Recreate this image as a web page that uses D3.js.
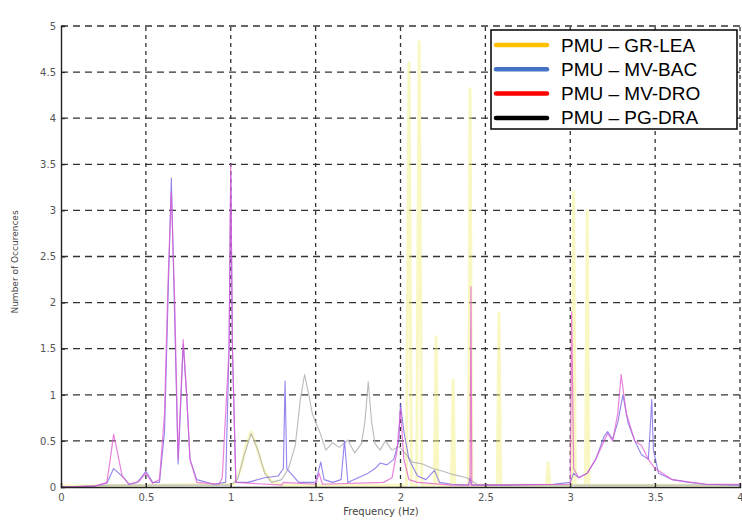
<!DOCTYPE html>
<html>
<head>
<meta charset="utf-8">
<script src="https://cdn.jsdelivr.net/npm/d3@7"></script>
<style>
  body { margin: 0; background: #fff; }
  svg { display: block; font-family: "Liberation Sans", Arial, sans-serif; }
</style>
</head>
<body>
<div id="chart"></div>
<script>
// series names shown in the legend
const seriesNames = ["PMU \u2013 GR-LEA", "PMU \u2013 MV-BAC", "PMU \u2013 MV-DRO", "PMU \u2013 PG-DRA"];
const xTicks = [0, 0.5, 1, 1.5, 2, 2.5, 3, 3.5, 4];
const yTicks = [0, 0.5, 1, 1.5, 2, 2.5, 3, 3.5, 4, 4.5, 5];

// GR-LEA (yellow): mostly narrow spikes
const freqLEA = [0, 0.5, 1.02, 1.06, 1.09, 1.12, 1.15, 1.19, 1.24, 1.3, 2.035, 2.05, 2.065, 2.095, 2.11, 2.125, 2.2, 2.21, 2.22, 2.3, 2.31, 2.32, 2.4, 2.41, 2.42, 2.57, 2.58, 2.59, 2.86, 2.87, 2.88, 3.01, 3.02, 3.03, 3.09, 3.1, 3.11, 4];
const valLEA  = [0.01, 0.02, 0.03, 0.2, 0.45, 0.6, 0.45, 0.2, 0.06, 0.02, 0.02, 4.6, 0.02, 0.02, 4.83, 0.02, 0.02, 1.63, 0.02, 0.02, 1.16, 0.02, 0.02, 4.32, 0.02, 0.02, 1.89, 0.02, 0.02, 0.26, 0.02, 0.02, 3.2, 0.02, 0.02, 3.0, 0.02, 0.02];

// MV-BAC (blue)
const freqBAC = [0, 0.2, 0.27, 0.29, 0.31, 0.34, 0.37, 0.4, 0.45, 0.5, 0.54, 0.58, 0.61, 0.63, 0.65, 0.67, 0.69, 0.72, 0.74, 0.76, 0.8, 0.9, 0.97, 0.99, 1.0, 1.01, 1.03, 1.1, 1.2, 1.28, 1.31, 1.32, 1.33, 1.4, 1.5, 1.53, 1.55, 1.6, 1.65, 1.67, 1.69, 1.75, 1.8, 1.85, 1.88, 1.92, 1.96, 1.99, 2.0, 2.02, 2.05, 2.1, 2.15, 2.2, 2.23, 2.3, 2.4, 2.41, 2.42, 2.6, 2.9, 3.0, 3.02, 3.05, 3.1, 3.15, 3.2, 3.22, 3.25, 3.28, 3.31, 3.34, 3.38, 3.42, 3.46, 3.47, 3.48, 3.49, 3.52, 3.6, 3.7, 3.8, 4];
const valBAC  = [0, 0.01, 0.04, 0.12, 0.2, 0.15, 0.1, 0.03, 0.05, 0.17, 0.05, 0.05, 0.6, 2.0, 3.35, 1.8, 0.25, 1.55, 1.0, 0.3, 0.08, 0.03, 0.05, 1.5, 3.4, 1.5, 0.05, 0.05, 0.1, 0.12, 0.2, 1.15, 0.2, 0.05, 0.05, 0.27, 0.08, 0.05, 0.08, 0.5, 0.05, 0.1, 0.14, 0.2, 0.26, 0.24, 0.3, 0.5, 0.9, 0.6, 0.3, 0.12, 0.08, 0.18, 0.05, 0.03, 0.02, 0.1, 0.02, 0.02, 0.03, 0.05, 0.15, 0.1, 0.15, 0.3, 0.55, 0.6, 0.52, 0.7, 1.0, 0.7, 0.5, 0.35, 0.3, 0.6, 0.95, 0.4, 0.15, 0.08, 0.05, 0.03, 0.02];

// MV-DRO (red)
const freqDRO = [0, 0.2, 0.27, 0.29, 0.31, 0.33, 0.36, 0.4, 0.46, 0.5, 0.54, 0.58, 0.61, 0.63, 0.65, 0.67, 0.69, 0.72, 0.74, 0.76, 0.8, 0.93, 0.95, 0.99, 1.0, 1.01, 1.03, 1.3, 1.31, 1.5, 1.52, 1.54, 1.9, 1.95, 1.98, 2.0, 2.02, 2.05, 2.1, 2.3, 2.41, 2.415, 2.42, 3.0, 3.008, 3.02, 3.05, 3.1, 3.15, 3.2, 3.22, 3.25, 3.28, 3.3, 3.33, 3.38, 3.42, 3.46, 3.5, 3.6, 3.8, 4];
const valDRO  = [0, 0.01, 0.05, 0.3, 0.57, 0.4, 0.12, 0.03, 0.06, 0.15, 0.04, 0.08, 0.8, 2.2, 3.2, 2.0, 0.3, 1.6, 1.0, 0.3, 0.05, 0.03, 0.1, 1.5, 3.5, 1.5, 0.05, 0.02, 0.05, 0.03, 0.15, 0.03, 0.05, 0.1, 0.4, 0.85, 0.3, 0.08, 0.05, 0.02, 0.02, 2.17, 0.02, 0.03, 1.9, 0.2, 0.1, 0.15, 0.3, 0.5, 0.58, 0.5, 0.8, 1.22, 0.8, 0.5, 0.45, 0.3, 0.2, 0.08, 0.03, 0.03];

// PG-DRA (black)
const freqDRA = [0, 0.3, 0.6, 1.0, 1.04, 1.08, 1.12, 1.16, 1.2, 1.24, 1.3, 1.34, 1.38, 1.41, 1.435, 1.46, 1.48, 1.5, 1.52, 1.56, 1.6, 1.64, 1.69, 1.73, 1.77, 1.79, 1.81, 1.83, 1.85, 1.88, 1.91, 1.95, 1.99, 2.02, 2.07, 2.13, 2.19, 2.25, 2.3, 2.39, 2.45, 2.6, 4];
const valDRA  = [0, 0.02, 0.02, 0.02, 0.08, 0.35, 0.58, 0.4, 0.15, 0.05, 0.08, 0.2, 0.45, 0.95, 1.22, 1.0, 0.8, 0.7, 0.62, 0.4, 0.48, 0.43, 0.51, 0.37, 0.47, 0.7, 1.14, 0.7, 0.47, 0.4, 0.5, 0.4, 0.44, 0.38, 0.27, 0.25, 0.2, 0.17, 0.14, 0.1, 0.03, 0.02, 0.02];

const legendColors = ["#ffc000", "#4472c4", "#ff0000", "#000000"];
// washed-out tones as they appear inside the plot
const plotColors = ["#f2f07a", "#6d5ce6", "#e05ad2", "#b4b4b4"];
const plotWidths = [3, 1.1, 1.2, 1.1];
const plotOpacity = [0.45, 0.75, 0.75, 0.9];

const width = 742, height = 522;
const margin = { left: 61, right: 2, top: 26, bottom: 35 };

const svg = d3.select("#chart").append("svg")
    .attr("width", width)
    .attr("height", height);

const x = d3.scaleLinear().domain([0, 4]).range([margin.left, width - margin.right]);
const y = d3.scaleLinear().domain([0, 5]).range([height - margin.bottom, margin.top]);

// grid
svg.append("g").selectAll("line")
    .data(yTicks.slice(1))
    .join("line")
    .attr("x1", x(0)).attr("x2", x(4))
    .attr("y1", d => y(d)).attr("y2", d => y(d))
    .attr("stroke", "#333").attr("stroke-width", 1.3)
    .attr("stroke-dasharray", "7,5");

svg.append("g").selectAll("line")
    .data(xTicks.slice(1))
    .join("line")
    .attr("x1", d => x(d)).attr("x2", d => x(d))
    .attr("y1", y(0)).attr("y2", y(5))
    .attr("stroke", "#333").attr("stroke-width", 1.3)
    .attr("stroke-dasharray", "4,4");

// series
const series = [
    { f: freqLEA, v: valLEA },
    { f: freqBAC, v: valBAC },
    { f: freqDRO, v: valDRO },
    { f: freqDRA, v: valDRA }
];
const line = d3.line().x(d => x(d[0])).y(d => y(d[1]));
const drawOrder = [0, 3, 1, 2];
drawOrder.forEach(i => {
    const s = series[i];
    svg.append("path")
        .datum(d3.zip(s.f, s.v))
        .attr("d", line)
        .attr("fill", "none")
        .attr("stroke", plotColors[i])
        .attr("stroke-width", plotWidths[i])
        .attr("stroke-opacity", plotOpacity[i])
        .attr("stroke-linejoin", "round");
});

// axes
const xAxis = svg.append("g")
    .attr("transform", `translate(0,${y(0)})`)
    .call(d3.axisBottom(x).tickValues(xTicks).tickFormat(d3.format("")).tickSize(-4).tickPadding(7));
const yAxis = svg.append("g")
    .attr("transform", `translate(${x(0)},0)`)
    .call(d3.axisLeft(y).tickValues(yTicks).tickFormat(d3.format("")).tickSize(-4).tickPadding(5));
[xAxis, yAxis].forEach(a => {
    a.select(".domain").attr("stroke", "#222").attr("stroke-width", 1.4);
    a.selectAll(".tick line").attr("stroke", "#222");
    a.selectAll(".tick text").attr("fill", "#555").attr("font-size", 10)
        .attr("font-family", "'DejaVu Sans', sans-serif");
});
// last x label sits on the right edge
xAxis.selectAll(".tick text").filter(d => d === 4).attr("text-anchor", "end").attr("dx", 3);

svg.append("text")
    .attr("x", 381).attr("y", 515)
    .attr("text-anchor", "middle")
    .attr("font-size", 10).attr("fill", "#444")
    .attr("font-family", "'DejaVu Sans', sans-serif")
    .text("Frequency (Hz)");

svg.append("text")
    .attr("transform", "translate(18,262) rotate(-90)")
    .attr("text-anchor", "middle")
    .attr("font-size", 9).attr("fill", "#444")
    .attr("font-family", "'DejaVu Sans', sans-serif")
    .text("Number of Occurences");

// legend
const legend = svg.append("g").attr("transform", "translate(491,30)");
legend.append("rect")
    .attr("width", 246).attr("height", 99)
    .attr("fill", "#fff").attr("stroke", "#000").attr("stroke-width", 1.5);
seriesNames.forEach((name, i) => {
    const cy = 15 + i * 24.3;
    legend.append("line")
        .attr("x1", 5).attr("x2", 56).attr("y1", cy).attr("y2", cy)
        .attr("stroke", legendColors[i]).attr("stroke-width", 4.5)
        .attr("stroke-linecap", "round");
    legend.append("text")
        .attr("x", 70).attr("y", cy + 6.5)
        .attr("font-size", 19).attr("fill", "#000")
        .text(name);
});
</script>
</body>
</html>
